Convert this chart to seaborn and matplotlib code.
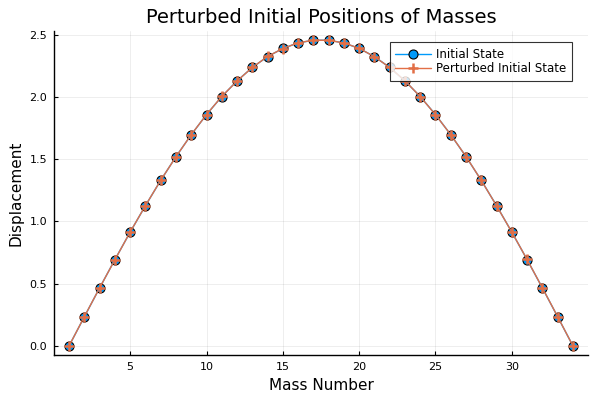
import matplotlib
matplotlib.use("Agg")
import matplotlib.pyplot as plt
import numpy as np
import seaborn as sns

# Data
mass_number = list(range(1, 35))
initial_state = [0.000, 0.234, 0.466, 0.693, 0.914, 1.127, 1.330, 1.521, 1.697,
                 1.859, 2.004, 2.130, 2.238, 2.325, 2.391, 2.435, 2.457,
                 2.457, 2.435, 2.391, 2.325, 2.238, 2.130, 2.004, 1.859,
                 1.697, 1.521, 1.330, 1.127, 0.914, 0.693, 0.466, 0.234, 0.000]
perturbed_state = [0.000, 0.235, 0.466, 0.692, 0.915, 1.127, 1.331, 1.520, 1.698,
                   1.859, 2.005, 2.129, 2.238, 2.326, 2.390, 2.436, 2.457,
                   2.456, 2.435, 2.392, 2.324, 2.238, 2.131, 2.004, 1.858,
                   1.697, 1.522, 1.330, 1.126, 0.914, 0.694, 0.466, 0.235, 0.000]

sns.set_theme(style="white")
plt.rcParams["font.family"] = ["DejaVu Sans"]
plt.rcParams["text.color"] = "black"
plt.rcParams["axes.labelcolor"] = "black"
plt.rcParams["xtick.color"] = "black"
plt.rcParams["ytick.color"] = "black"

fig = plt.figure(figsize=(6, 4), dpi=100)
ax = fig.add_axes([0.09, 0.1125, 0.89, 0.81])

sns.lineplot(x=mass_number, y=initial_state, ax=ax, color="#009AFA", lw=1,
             marker="o", markersize=6.5, markerfacecolor="#009AFA",
             markeredgecolor="black", markeredgewidth=0.8,
             label="Initial State")
sns.lineplot(x=mass_number, y=perturbed_state, ax=ax, color="#E26F46", lw=1,
             marker="+", markersize=7, markeredgecolor="#E26F46",
             markeredgewidth=1.8, label="Perturbed Initial State")

ax.set_xlim(0.01, 34.99)
ax.set_ylim(-0.0738, 2.531)
ax.set_xticks([5, 10, 15, 20, 25, 30])
ax.set_yticks([0.0, 0.5, 1.0, 1.5, 2.0, 2.5])
ax.set_yticklabels(["0.0", "0.5", "1.0", "1.5", "2.0", "2.5"])
ax.grid(True, color="black", alpha=0.08, lw=0.6)
ax.tick_params(direction="in", length=3, width=0.8, labelsize=8,
               color="black", bottom=True, left=True, pad=5)
for side in ["top", "right"]:
    ax.spines[side].set_visible(False)
for side in ["left", "bottom"]:
    ax.spines[side].set_color("black")
    ax.spines[side].set_linewidth(1)

ax.set_xlabel("Mass Number", fontsize=11)
ax.set_ylabel("Displacement", fontsize=11)
ax.set_title("Perturbed Initial Positions of Masses", fontsize=14)

leg = ax.legend(loc="upper right", bbox_to_anchor=(0.97, 0.965), fontsize=8.5,
                frameon=True, fancybox=False, borderpad=0.45,
                handlelength=3.0, labelspacing=0.15, borderaxespad=0,
                handletextpad=0.5)
leg.get_frame().set_edgecolor("black")
leg.get_frame().set_linewidth(0.8)

fig.savefig("out.png", dpi=100)
